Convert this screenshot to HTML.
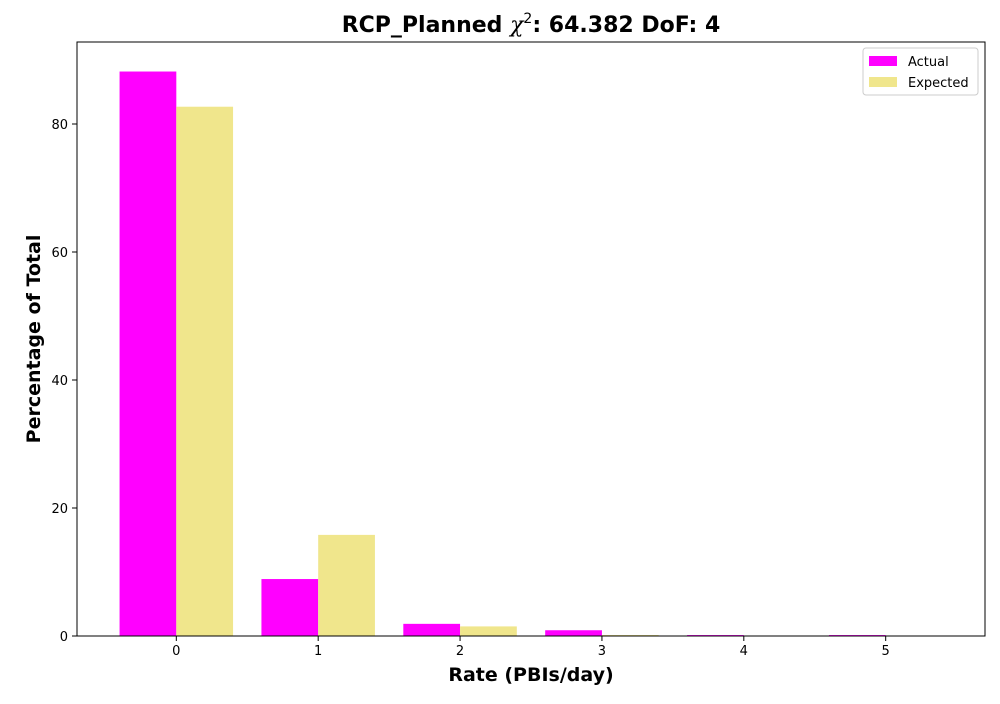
<!DOCTYPE html>
<html><head><meta charset="utf-8"><style>
body{margin:0;background:#fff;font-family:"DejaVu Sans","Liberation Sans",sans-serif}
</style></head><body>
<svg id="chart" width="1000" height="700" xmlns="http://www.w3.org/2000/svg">
<rect width="1000" height="700" fill="#fff"/>
<text x="531" y="32" text-anchor="middle" font-size="22" font-weight="bold" font-family="DejaVu Sans, sans-serif">RCP_Planned <tspan font-style="italic" font-weight="normal" font-family="DejaVu Serif, serif">χ</tspan><tspan font-size="14" dy="-9" font-weight="normal">2</tspan><tspan dy="9">: 64.382 DoF: 4</tspan></text>
<g id="bars"></g>
<g id="axes"></g>
<text x="531" y="681" text-anchor="middle" font-size="19" font-weight="bold">Rate (PBIs/day)</text>
<text transform="translate(40,339) rotate(-90)" text-anchor="middle" font-size="19" font-weight="bold">Percentage of Total</text>
<g>
<rect x="863" y="48" width="115" height="47" fill="#fff" stroke="#ccc" rx="3"/>
<rect x="869" y="56" width="28" height="10" fill="#ff00ff"/>
<text x="908" y="66" font-size="13">Actual</text>
<rect x="869" y="77" width="28" height="10" fill="#f0e68c"/>
<text x="908" y="87" font-size="13">Expected</text>
</g>
</svg>
<script>
const categories=[0,1,2,3,4,5];
const actual=[88.2,8.9,1.9,0.9,0.15,0.15];
const expected=[82.7,15.8,1.5,0.15,0.02,0.0];
const yTicks=[0,20,40,60,80];
const L=77,R=985,T=42,B=636;
const xs=v=>L+(v+0.7)/6.4*(R-L);
const ys=v=>B-v*6.4;
const NS="http://www.w3.org/2000/svg";
const bars=document.getElementById('bars'),axes=document.getElementById('axes');
function mk(tag,attrs,parent){const e=document.createElementNS(NS,tag);for(const k in attrs)e.setAttribute(k,attrs[k]);parent.appendChild(e);return e;}
categories.forEach((c,i)=>{
  let r=mk('rect',{x:xs(c-0.4),y:ys(actual[i]),width:xs(c)-xs(c-0.4),height:B-ys(actual[i]),fill:'#ff00ff'},bars);
  
  
  let e=mk('rect',{x:xs(c),y:ys(expected[i]),width:xs(c+0.4)-xs(c),height:B-ys(expected[i]),fill:'#f0e68c'},bars);
  
  
  mk('line',{x1:xs(c),x2:xs(c),y1:B,y2:B+5,stroke:'#000'},axes);
  let t=mk('text',{x:xs(c),y:B+19,'text-anchor':'middle','font-size':13},axes);
  t.textContent=c;
  
  
});
yTicks.forEach(v=>{
  mk('line',{x1:L-5,x2:L,y1:ys(v),y2:ys(v),stroke:'#000'},axes);
  let t=mk('text',{x:L-9,y:ys(v)+5,'text-anchor':'end','font-size':13},axes);
  t.textContent=v;
  
  
});
let f=mk('rect',{x:L,y:T,width:R-L,height:B-T,fill:'none',stroke:'#000','stroke-width':1},axes);


</script>
</body></html>
